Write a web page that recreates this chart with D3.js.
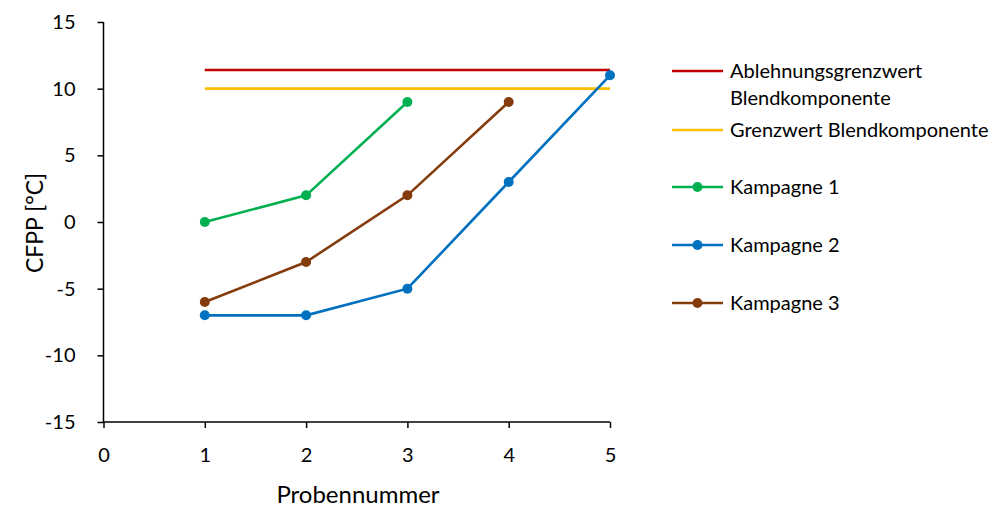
<!DOCTYPE html>
<html><head><meta charset="utf-8">
<script src="https://cdn.jsdelivr.net/npm/d3@7"></script>
<style>body{margin:0;background:#fff}svg{display:block}text{font-family:Lato,"Open Sans",sans-serif;fill:#000}</style>
</head><body><svg id="c" width="990" height="508"></svg>
<script>
const xTicks = [0,1,2,3,4,5];
const yTicks = [-15,-10,-5,0,5,10,15];
const refX = [1,5];
const ablehnung = [11.4, 11.4];
const grenzwert = [10, 10];
const k1x = [1,2,3];
const k1y = [0,2,9];
const k2x = [1,2,3,4,5];
const k2y = [-7,-7,-5,3,11];
const k3x = [1,2,3,4];
const k3y = [-6,-3,2,9];

const series = [
  {name:["Ablehnungsgrenzwert","Blendkomponente"], x:refX, y:ablehnung, color:"#C00000", marker:false},
  {name:["Grenzwert Blendkomponente"], x:refX, y:grenzwert, color:"#FFC000", marker:false},
  {name:["Kampagne 1"], x:k1x, y:k1y, color:"#00B050", marker:true},
  {name:["Kampagne 2"], x:k2x, y:k2y, color:"#0070C0", marker:true},
  {name:["Kampagne 3"], x:k3x, y:k3y, color:"#843C0C", marker:true}
];

const svg = d3.select("#c");
const x = d3.scaleLinear().domain([0,5]).range([103.5,610]);
const y = d3.scaleLinear().domain([-15,15]).range([422,22]);
const fmt = d => String(d);

const yAxis = svg.append("g").attr("transform","translate(103.5,0)")
  .call(d3.axisLeft(y).tickValues(yTicks).tickFormat(fmt).tickSize(6).tickPadding(22));
const xAxis = svg.append("g").attr("transform","translate(0,422)")
  .call(d3.axisBottom(x).tickValues(xTicks).tickFormat(fmt).tickSize(6).tickPadding(20));
[yAxis,xAxis].forEach(a=>{
  a.selectAll("line").attr("stroke","#000").attr("stroke-width",1.5);
  a.select(".domain").remove();
  a.selectAll("text").attr("font-size",20).attr("font-family","Lato, 'Open Sans', sans-serif");
});
svg.append("line").attr("x1",103.5).attr("x2",103.5).attr("y1",y(15)).attr("y2",y(-15)).attr("stroke","#000").attr("stroke-width",1.5);
svg.append("line").attr("x1",x(0)).attr("x2",x(5)).attr("y1",y(-15)).attr("y2",y(-15)).attr("stroke","#000").attr("stroke-width",1.5);

const line = d3.line().x(d=>x(d[0])).y(d=>y(d[1]));
series.forEach(s=>{
  const pts = s.x.map((v,i)=>[v,s.y[i]]);
  svg.append("path").attr("d",line(pts)).attr("fill","none").attr("stroke",s.color).attr("stroke-width",2.6);
  if(s.marker){
    svg.selectAll(null).data(pts).enter().append("circle")
      .attr("cx",d=>x(d[0])).attr("cy",d=>y(d[1])).attr("r",5).attr("fill",s.color);
  }
});

svg.append("text").attr("x",358).attr("y",503).attr("text-anchor","middle").attr("font-size",24).text("Probennummer");
svg.append("text").attr("transform","translate(43,223) rotate(-90)").attr("text-anchor","middle").attr("font-size",23).text("CFPP [°C]");

const legY = [71,130,187,245,303];
series.forEach((s,i)=>{
  const g = svg.append("g").attr("transform",`translate(0,${legY[i]})`);
  g.append("line").attr("x1",672).attr("x2",723).attr("y1",0).attr("y2",0).attr("stroke",s.color).attr("stroke-width",2.6);
  if(s.marker) g.append("circle").attr("cx",697.5).attr("cy",0).attr("r",5).attr("fill",s.color);
  s.name.forEach((t,j)=>{
    g.append("text").attr("x",730).attr("y",j*27).attr("dy","0.35em").attr("font-size",20).text(t);
  });
});
</script></body></html>
